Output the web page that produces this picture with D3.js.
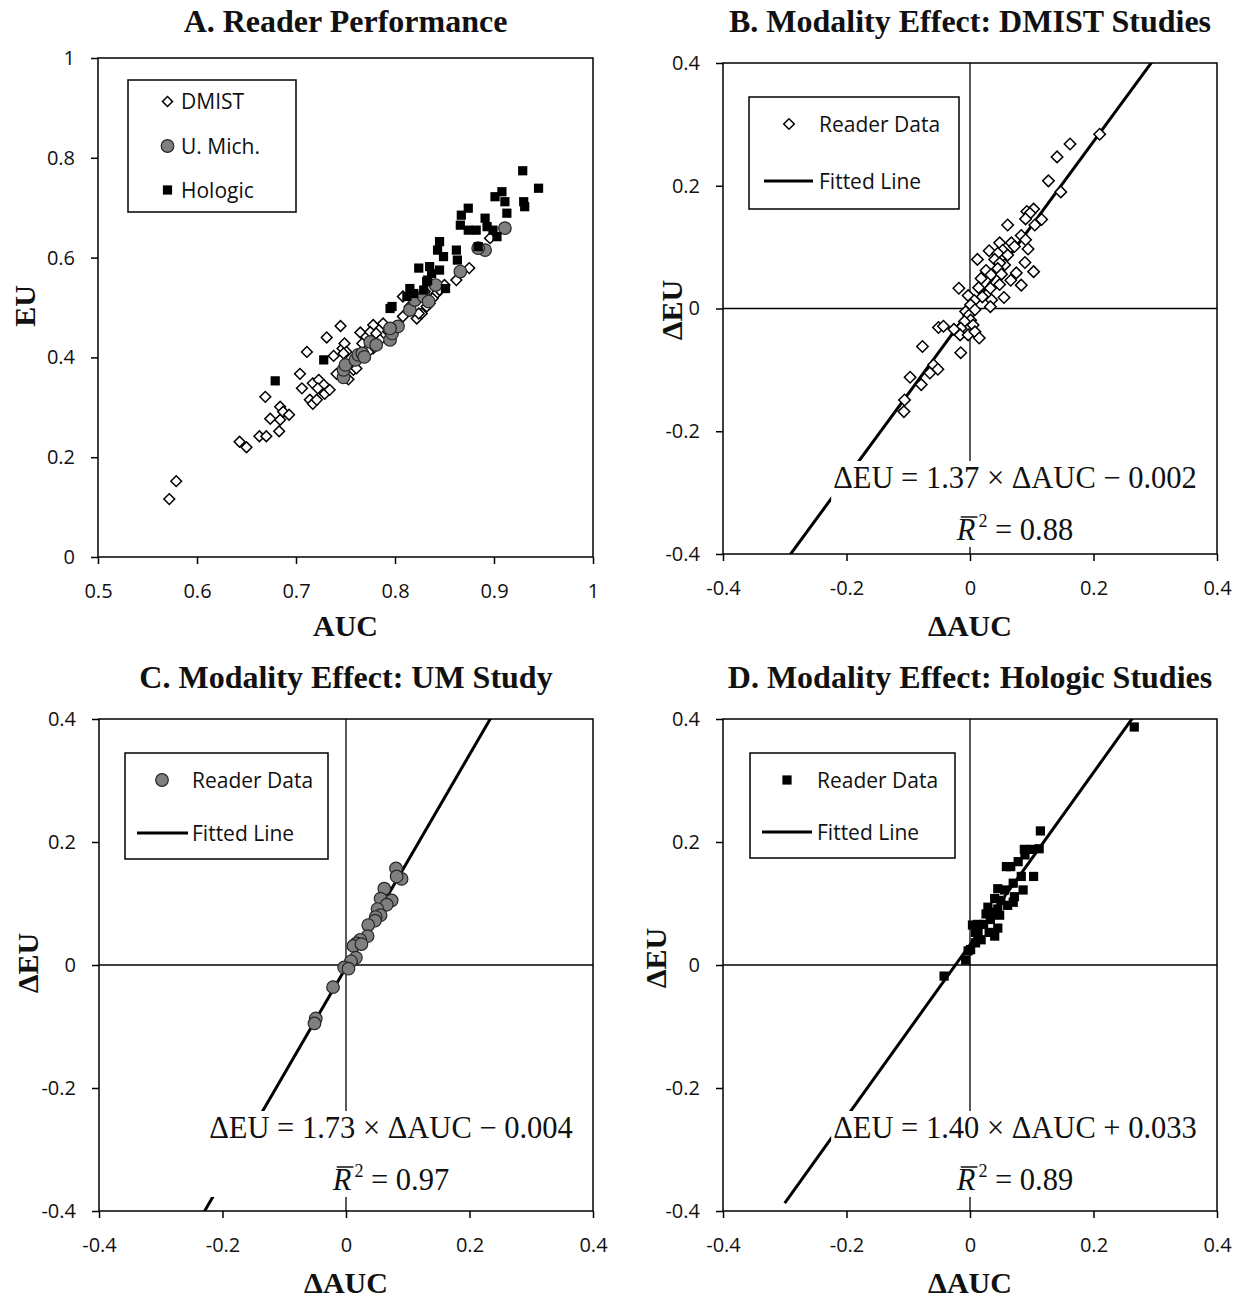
<!DOCTYPE html>
<html>
<head>
<meta charset="utf-8">
<script src="https://cdn.jsdelivr.net/npm/d3@7"></script>
<style>
body { margin: 0; background: #fff; }
</style>
</head>
<body>
<script>
// ---- data ----
var aucTicks = [0.5, 0.6, 0.7, 0.8, 0.9, 1];
var aucTickLabels = ['0.5', '0.6', '0.7', '0.8', '0.9', '1'];
var euTicks = [0, 0.2, 0.4, 0.6, 0.8, 1];
var euTickLabels = ['0', '0.2', '0.4', '0.6', '0.8', '1'];
var deltaTicks = [-0.4, -0.2, 0, 0.2, 0.4];
var deltaTickLabels = ['-0.4', '-0.2', '0', '0.2', '0.4'];

var panelTitles = ['A. Reader Performance', 'B. Modality Effect: DMIST Studies',
                   'C. Modality Effect: UM Study', 'D. Modality Effect: Hologic Studies'];
var seriesNames = ['DMIST', 'U. Mich.', 'Hologic'];

// panel A: reader AUC vs EU
var dmistAUC = [0.572,0.579,0.643,0.650,0.663,0.670,0.669,0.683,0.674,0.684,0.684,0.687,0.693,0.704,0.706,0.711,0.714,0.717,0.721,0.717,0.723,0.728,0.722,0.729,0.734,0.731,0.738,0.741,0.745,0.747,0.749,0.751,0.748,0.753,0.758,0.761,0.765,0.767,0.771,0.778,0.775,0.781,0.788,0.785,0.778,0.773,0.808,0.808,0.822,0.827,0.830,0.835,0.842,0.845,0.862,0.875,0.896,0.832,0.815,0.824,0.829,0.838,0.850,0.760,0.793];
var dmistEU  = [0.116,0.152,0.231,0.220,0.242,0.242,0.321,0.252,0.277,0.275,0.301,0.291,0.285,0.367,0.338,0.411,0.315,0.307,0.315,0.348,0.355,0.345,0.338,0.327,0.335,0.440,0.403,0.367,0.463,0.418,0.428,0.411,0.408,0.356,0.375,0.378,0.450,0.428,0.441,0.465,0.451,0.448,0.468,0.435,0.418,0.411,0.482,0.522,0.478,0.488,0.532,0.508,0.528,0.535,0.555,0.579,0.639,0.502,0.502,0.488,0.522,0.518,0.545,0.395,0.452];
var umAUC = [0.748,0.748,0.750,0.760,0.763,0.767,0.769,0.775,0.781,0.795,0.797,0.803,0.795,0.815,0.820,0.829,0.834,0.841,0.866,0.891,0.911,0.884];
var umEU  = [0.360,0.375,0.385,0.395,0.405,0.408,0.401,0.431,0.425,0.435,0.448,0.462,0.458,0.495,0.515,0.522,0.512,0.545,0.572,0.615,0.659,0.619];
var holAUC = [0.679,0.728,0.795,0.797,0.815,0.819,0.824,0.835,0.833,0.845,0.845,0.843,0.849,0.851,0.862,0.863,0.867,0.866,0.874,0.874,0.882,0.891,0.893,0.884,0.901,0.908,0.911,0.913,0.903,0.899,0.929,0.930,0.931,0.945,0.829,0.832,0.812,0.837];
var holEU  = [0.353,0.395,0.498,0.502,0.538,0.528,0.579,0.582,0.555,0.575,0.632,0.615,0.602,0.538,0.615,0.595,0.685,0.665,0.699,0.655,0.655,0.679,0.662,0.622,0.722,0.732,0.712,0.689,0.642,0.655,0.774,0.712,0.702,0.739,0.535,0.552,0.522,0.568];

// panels B-D: modality differences
var dmistDAUC = [0.210,0.162,0.141,0.127,0.147,0.103,0.092,0.097,0.116,0.090,0.105,0.061,0.083,0.090,0.048,0.067,0.094,0.072,0.031,0.053,0.045,0.061,0.040,0.012,0.089,0.056,0.048,0.026,0.045,0.075,0.103,0.018,0.034,0.051,0.066,0.083,0.048,0.014,0.033,-0.018,-0.003,0.020,0.035,0.055,0.033,0.007,0.001,-0.007,0.008,-0.002,0.001,-0.009,0.005,-0.015,-0.026,-0.051,-0.043,-0.016,-0.003,0.008,0.015,-0.077,-0.015,-0.059,-0.052,-0.065,-0.097,-0.079,-0.106,-0.107];
var dmistDEU  = [0.284,0.268,0.247,0.208,0.190,0.162,0.158,0.155,0.145,0.146,0.136,0.136,0.119,0.112,0.107,0.107,0.097,0.101,0.094,0.095,0.090,0.087,0.080,0.080,0.075,0.071,0.074,0.062,0.065,0.058,0.060,0.049,0.055,0.056,0.046,0.038,0.039,0.034,0.033,0.033,0.021,0.019,0.014,0.018,0.003,0.013,0.006,-0.005,-0.002,-0.011,-0.019,-0.021,-0.027,-0.032,-0.034,-0.031,-0.029,-0.043,-0.043,-0.038,-0.048,-0.062,-0.072,-0.092,-0.099,-0.105,-0.112,-0.124,-0.149,-0.168];
var umDAUC = [0.081,0.090,0.082,0.062,0.056,0.074,0.066,0.051,0.056,0.048,0.047,0.036,0.035,0.023,0.017,0.012,0.025,0.016,0.008,-0.003,0.004,-0.021,-0.049,-0.051];
var umDEU  = [0.157,0.140,0.144,0.124,0.108,0.105,0.098,0.091,0.081,0.078,0.072,0.065,0.047,0.041,0.035,0.031,0.034,0.012,0.006,-0.004,-0.006,-0.036,-0.087,-0.095];
var holDAUC = [0.266,0.114,0.112,0.100,0.088,0.089,0.078,0.059,0.066,0.103,0.083,0.070,0.045,0.056,0.086,0.040,0.072,0.050,0.070,0.061,0.029,0.045,0.037,0.048,0.026,0.033,0.012,0.022,0.004,0.045,0.031,0.040,0.009,0.018,0.009,0.013,0.001,-0.003,-0.007,-0.042];
var holDEU  = [0.387,0.218,0.189,0.188,0.188,0.179,0.168,0.160,0.160,0.144,0.144,0.133,0.124,0.122,0.122,0.108,0.111,0.105,0.102,0.097,0.094,0.091,0.086,0.081,0.083,0.074,0.066,0.066,0.065,0.060,0.053,0.047,0.053,0.041,0.036,0.050,0.025,0.023,0.008,-0.018];

// fitted lines (B, C, D)
var fitSlope = [1.37, 1.73, 1.40];
var fitIntercept = [-0.002, -0.004, 0.033];
var fitRange = [-0.3, 0.3];
var fitEquations = ['\u0394EU = 1.37 \u00d7 \u0394AUC \u2212 0.002',
                    '\u0394EU = 1.73 \u00d7 \u0394AUC \u2212 0.004',
                    '\u0394EU = 1.40 \u00d7 \u0394AUC + 0.033'];
var fitR2 = ['0.88', '0.97', '0.89'];
var legendLabels = ['Reader Data', 'Fitted Line'];

// ---- drawing ----
var sans = '"Open Sans", "Liberation Sans", sans-serif';
var serif = '"Liberation Serif", "Times New Roman", serif';

var svg = d3.select('body').append('svg')
    .attr('width', 1249).attr('height', 1298)
    .style('background', '#fff');

// where each panel sits on the page
var layout = [
  {l: 98,  t: 58,  w: 495, h: 499, xd: [0.5, 1],    yd: [0, 1],
   xt: aucTicks, xtl: aucTickLabels, yt: euTicks, ytl: euTickLabels,
   titleY: 32, xlab: 'AUC', xlabY: 636, ylab: 'EU', ylabX: 25, ylabY: 306},
  {l: 723, t: 63,  w: 494, h: 491, xd: [-0.4, 0.4], yd: [-0.4, 0.4],
   xt: deltaTicks, xtl: deltaTickLabels, yt: deltaTicks, ytl: deltaTickLabels,
   titleY: 32, xlab: '\u0394AUC', xlabY: 636, ylab: '\u0394EU', ylabX: 672, ylabY: 310,
   eqX: 1015, eqY1: 488, eqY2: 540},
  {l: 99,  t: 719, w: 494, h: 492, xd: [-0.4, 0.4], yd: [-0.4, 0.4],
   xt: deltaTicks, xtl: deltaTickLabels, yt: deltaTicks, ytl: deltaTickLabels,
   titleY: 688, xlab: '\u0394AUC', xlabY: 1293, ylab: '\u0394EU', ylabX: 28, ylabY: 963,
   eqX: 391, eqY1: 1138, eqY2: 1190},
  {l: 723, t: 719, w: 494, h: 492, xd: [-0.4, 0.4], yd: [-0.4, 0.4],
   xt: deltaTicks, xtl: deltaTickLabels, yt: deltaTicks, ytl: deltaTickLabels,
   titleY: 688, xlab: '\u0394AUC', xlabY: 1293, ylab: '\u0394EU', ylabX: 656, ylabY: 958,
   eqX: 1015, eqY1: 1138, eqY2: 1190}
];

function drawMarker(sel, kind, size) {
  if (kind == 'circle') {
    sel.append('circle').attr('r', 6.3)
      .attr('fill', '#7f7f7f').attr('stroke', '#262626').attr('stroke-width', 1.2);
  } else if (kind == 'diamond') {
    sel.append('path').attr('d', d3.symbol(d3.symbolSquare, size || 56)())
      .attr('transform', 'rotate(45)')
      .attr('fill', '#fff').attr('stroke', '#000').attr('stroke-width', 1.5);
  } else {
    sel.append('path').attr('d', d3.symbol(d3.symbolSquare, 85)())
      .attr('fill', '#000');
  }
}

function drawPanel(i) {
  var p = layout[i];
  var g = svg.append('g').attr('transform', 'translate(' + p.l + ',' + p.t + ')');
  var x = d3.scaleLinear().domain(p.xd).range([0, p.w]);
  var y = d3.scaleLinear().domain(p.yd).range([p.h, 0]);

  g.append('clipPath').attr('id', 'clip' + i)
    .append('rect').attr('width', p.w).attr('height', p.h);

  // axes
  var xa = g.append('g').attr('transform', 'translate(0,' + p.h + ')')
    .call(d3.axisBottom(x).tickValues(p.xt).tickSize(7).tickPadding(20)
      .tickFormat(function(d, j) { return p.xtl[j]; }));
  var ya = g.append('g')
    .call(d3.axisLeft(y).tickValues(p.yt).tickSize(7).tickPadding(16)
      .tickFormat(function(d, j) { return p.ytl[j]; }));
  [xa, ya].forEach(function(a) {
    a.select('.domain').remove();
    a.selectAll('line').attr('stroke', '#000').attr('stroke-width', 1.5);
    a.selectAll('text').attr('font-family', sans).attr('font-size', 20).attr('fill', '#111');
  });

  // zero lines for the difference panels
  if (i > 0) {
    g.append('line').attr('x1', x(0)).attr('x2', x(0)).attr('y1', 0).attr('y2', p.h)
      .attr('stroke', '#000').attr('stroke-width', 1.3);
    g.append('line').attr('x1', 0).attr('x2', p.w).attr('y1', y(0)).attr('y2', y(0))
      .attr('stroke', '#000').attr('stroke-width', 1.3);
  }

  // title and axis labels
  svg.append('text').attr('x', p.l + p.w / 2).attr('y', p.titleY)
    .attr('text-anchor', 'middle').attr('font-family', serif)
    .attr('font-weight', 'bold').attr('font-size', 32).attr('fill', '#111')
    .text(panelTitles[i]);
  svg.append('text').attr('x', p.l + p.w / 2).attr('y', p.xlabY)
    .attr('text-anchor', 'middle').attr('font-family', serif)
    .attr('font-weight', 'bold').attr('font-size', 30).attr('fill', '#111')
    .text(p.xlab);
  svg.append('text')
    .attr('transform', 'translate(' + p.ylabX + ',' + p.ylabY + ') rotate(-90)')
    .attr('dy', '0.33em')
    .attr('text-anchor', 'middle').attr('font-family', serif)
    .attr('font-weight', 'bold').attr('font-size', 30).attr('fill', '#111')
    .text(p.ylab);

  return {g: g, x: x, y: y, p: p};
}

function drawPoints(pan, xs, ys, kind, size) {
  pan.g.append('g').attr('clip-path', 'url(#clip' + layout.indexOf(pan.p) + ')')
    .selectAll('g').data(d3.zip(xs, ys)).enter()
    .append('g')
    .attr('transform', function(d) { return 'translate(' + pan.x(d[0]) + ',' + pan.y(d[1]) + ')'; })
    .each(function() { drawMarker(d3.select(this), kind, size); });
}

function drawFit(pan, k) {
  var line = d3.line()
    .x(function(d) { return pan.x(d); })
    .y(function(d) { return pan.y(fitSlope[k] * d + fitIntercept[k]); });
  pan.g.append('path').datum(fitRange)
    .attr('clip-path', 'url(#clip' + (k + 1) + ')')
    .attr('d', line).attr('fill', 'none')
    .attr('stroke', '#000').attr('stroke-width', 3);
}

function drawEquation(k) {
  var p = layout[k + 1];
  var eq = svg.append('g');
  var t1 = eq.append('text').attr('x', p.eqX).attr('y', p.eqY1)
    .attr('text-anchor', 'middle').attr('font-family', serif)
    .attr('font-size', 30.5).attr('fill', '#111').text(fitEquations[k]);
  var t2 = eq.append('text').attr('x', p.eqX).attr('y', p.eqY2)
    .attr('text-anchor', 'middle').attr('font-family', serif)
    .attr('font-size', 30.5).attr('fill', '#111');
  t2.append('tspan').attr('font-style', 'italic').text('R');
  t2.append('tspan').attr('font-size', 18).attr('dx', 3).attr('dy', -13).text('2');
  t2.append('tspan').attr('dy', 13).text(' = ' + fitR2[k]);

  var b1 = t1.node().getBBox(), b2 = t2.node().getBBox();
  var x0 = Math.min(b1.x, b2.x) - 2, x1 = Math.max(b1.x + b1.width, b2.x + b2.width) + 2;
  eq.insert('rect', function() { return t1.node(); })
    .attr('x', x0).attr('y', b1.y).attr('width', x1 - x0)
    .attr('height', b2.y + b2.height - b1.y).attr('fill', '#fff');

  // bar over R
  var r = t2.node().getExtentOfChar(0);
  eq.append('line').attr('x1', r.x + 4).attr('x2', r.x + r.width + 2)
    .attr('y1', p.eqY2 - 23).attr('y2', p.eqY2 - 23)
    .attr('stroke', '#111').attr('stroke-width', 1.5);
}

function drawFrame(pan) {
  pan.g.append('rect').attr('width', pan.p.w).attr('height', pan.p.h)
    .attr('fill', 'none').attr('stroke', '#000').attr('stroke-width', 1.5);
}

function legendBox(x, y, w, h) {
  svg.append('rect').attr('x', x).attr('y', y).attr('width', w).attr('height', h)
    .attr('fill', '#fff').attr('stroke', '#000').attr('stroke-width', 1.5);
}
function legendText(x, y, s) {
  svg.append('text').attr('x', x).attr('y', y).attr('dy', '0.36em')
    .attr('font-family', sans).attr('font-size', 21).attr('fill', '#111').text(s);
}
function legendMarker(x, y, kind, size) {
  drawMarker(svg.append('g').attr('transform', 'translate(' + x + ',' + y + ')'), kind, size);
}
function legendLine(x1, x2, y) {
  svg.append('line').attr('x1', x1).attr('x2', x2).attr('y1', y).attr('y2', y)
    .attr('stroke', '#000').attr('stroke-width', 3);
}

// Panel A
var pA = drawPanel(0);
drawPoints(pA, dmistAUC, dmistEU, 'diamond', 58);
drawPoints(pA, umAUC, umEU, 'circle');
drawPoints(pA, holAUC, holEU, 'square');
drawFrame(pA);
legendBox(128, 80, 168, 132);
var legRowsA = [101.5, 146, 190];
var legKindsA = ['diamond', 'circle', 'square'];
seriesNames.forEach(function(s, j) {
  legendMarker(167.5, legRowsA[j], legKindsA[j], 50);
  legendText(181, legRowsA[j], s);
});

// Panels B, C, D
var diffX = [dmistDAUC, umDAUC, holDAUC];
var diffY = [dmistDEU, umDEU, holDEU];
var diffKinds = ['diamond', 'circle', 'square'];
var legPos = [
  {x: 749, y: 97, w: 210, h: 112, mx: 789, tx: 819, r1: 124, r2: 181, lx1: 764, lx2: 813},
  {x: 125, y: 753, w: 203, h: 106, mx: 162, tx: 192, r1: 780, r2: 833, lx1: 137, lx2: 188},
  {x: 750, y: 753, w: 205, h: 105, mx: 787, tx: 817, r1: 780, r2: 832, lx1: 762, lx2: 812}
];
for (var k = 0; k < 3; k++) {
  var pan = drawPanel(k + 1);
  drawFit(pan, k);
  drawPoints(pan, diffX[k], diffY[k], diffKinds[k], 66);
  drawEquation(k);
  drawFrame(pan);
  var lp = legPos[k];
  legendBox(lp.x, lp.y, lp.w, lp.h);
  legendMarker(lp.mx, lp.r1, diffKinds[k], 56);
  legendText(lp.tx, lp.r1, legendLabels[0]);
  legendLine(lp.lx1, lp.lx2, lp.r2);
  legendText(lp.tx, lp.r2, legendLabels[1]);
}
</script>
</body>
</html>
